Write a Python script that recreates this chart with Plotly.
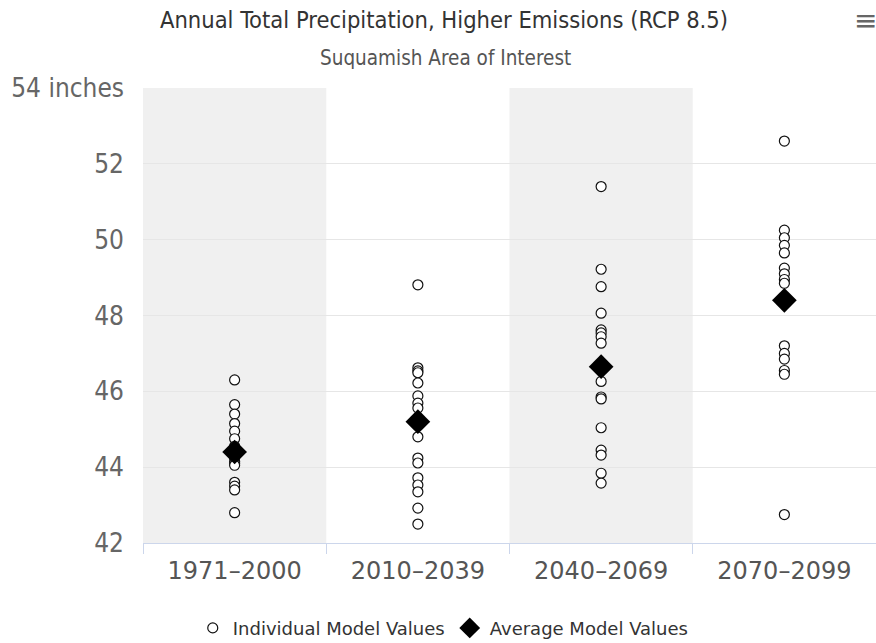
import plotly.graph_objects as go

# Model periods on the x axis
periods = ["1971–2000", "2010–2039", "2040–2069", "2070–2099"]

# Annual total precipitation (inches) from each individual climate model
models_1971_2000 = [46.3, 45.65, 45.4, 45.15, 44.95, 44.75, 44.55, 44.4, 44.25,
                    44.15, 44.1, 44.05, 43.6, 43.5, 43.4, 42.8]
models_2010_2039 = [48.81, 46.62, 46.54, 46.49, 46.22, 45.88, 45.69, 45.56, 45.3,
                    44.8, 44.24, 44.11, 43.72, 43.53, 43.35, 42.92, 42.5]
models_2040_2069 = [51.4, 49.22, 48.76, 48.06, 47.62, 47.54, 47.44, 47.27, 46.7,
                    46.26, 45.85, 45.8, 45.04, 44.45, 44.32, 43.84, 43.58]
models_2070_2099 = [52.6, 50.25, 50.05, 49.85, 49.65, 49.25, 49.1, 48.95, 48.85,
                    47.2, 47.0, 46.85, 46.55, 46.45, 42.75]

# Multi-model averages
average_values = [44.4, 45.2, 46.65, 48.4]

# Y axis ticks
y_ticks = [42, 44, 46, 48, 50, 52, 54]
y_tick_text = ["42", "44", "46", "48", "50", "52", "54 inches"]

NARROW = "DejaVu Sans Condensed, DejaVu Sans, sans-serif"

model_groups = [models_1971_2000, models_2010_2039, models_2040_2069, models_2070_2099]
ind_x, ind_y = [], []
for period, vals in zip(periods, model_groups):
    ind_x += [period] * len(vals)
    ind_y += vals

fig = go.Figure()
fig.add_trace(go.Scatter(
    x=ind_x, y=ind_y, mode="markers", name="Individual Model Values",
    marker=dict(symbol="circle", size=10, color="white",
                line=dict(color="#111111", width=1.2)),
))
fig.add_trace(go.Scatter(
    x=periods, y=average_values, mode="markers", name="Average Model Values",
    marker=dict(symbol="diamond", size=19, color="black",
                line=dict(color="black", width=0)),
))

# Alternating background bands for the first and third periods
for idx in (0, 2):
    fig.add_shape(type="rect", xref="x", yref="paper",
                  x0=idx - 0.5, x1=idx + 0.5, y0=0, y1=1,
                  fillcolor="#f0f0f0", line=dict(width=0), layer="below")

fig.update_layout(
    width=876, height=643,
    margin=dict(l=143, r=0, t=88, b=100),
    paper_bgcolor="white", plot_bgcolor="white",
    showlegend=True,
    legend=dict(orientation="h", xref="container", yref="container",
                x=0.506, y=0.023, xanchor="center", yanchor="middle",
                font=dict(family="DejaVu Sans", size=18, color="#333333"),
                itemsizing="trace", itemwidth=30),
    annotations=[
        dict(text="Annual Total Precipitation, Higher Emissions (RCP 8.5)",
             xref="paper", yref="paper", x=(444 - 143) / 733, y=1 + (88 - 20) / 455,
             xanchor="center", yanchor="middle", showarrow=False,
             font=dict(family=NARROW, size=23.5, color="#333333")),
        dict(text="Suquamish Area of Interest",
             xref="paper", yref="paper", x=(445 - 143) / 733, y=1 + (88 - 58) / 455,
             xanchor="center", yanchor="middle", showarrow=False,
             font=dict(family=NARROW, size=20.5, color="#555555")),
        dict(text="≡", xref="paper", yref="paper", x=(865 - 143) / 733,
             y=1 + (88 - 20) / 455, xanchor="center", yanchor="middle",
             showarrow=False, font=dict(family="DejaVu Sans", size=28, color="#666666")),
    ],
)

fig.update_xaxes(
    type="category", categoryorder="array", categoryarray=periods,
    range=[-0.5, 3.5],
    showgrid=False, zeroline=False,
    showline=True, linecolor="#ccd6eb", linewidth=1,
    ticks="outside", tickson="boundaries", ticklen=10, tickcolor="#ccd6eb",
    tickfont=dict(family="DejaVu Sans", size=24, color="#555555"),
    ticklabelstandoff=6,
)
fig.update_yaxes(
    range=[42, 54], tickvals=y_ticks, ticktext=y_tick_text,
    showgrid=True, gridcolor="#e6e6e6", gridwidth=1,
    zeroline=False, showline=False, ticks="",
    tickfont=dict(family=NARROW, size=26, color="#666666"),
    ticklabelstandoff=18,
)

fig.write_html("out.html")
